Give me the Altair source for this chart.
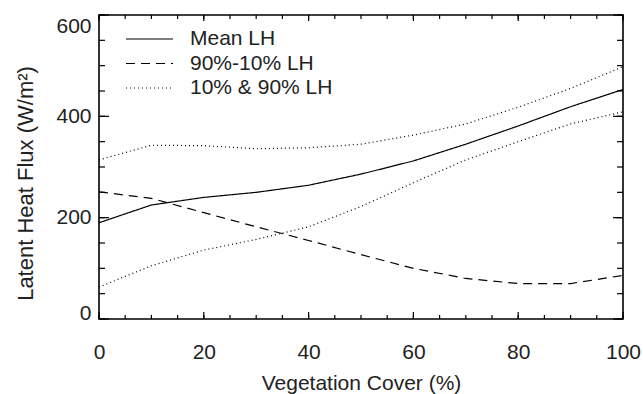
import altair as alt
import pandas as pd

# Vegetation cover classes (%) and latent heat flux statistics (W/m^2)
cover = [0, 10, 20, 30, 40, 50, 60, 70, 80, 90, 100]
mean_lh = [190, 225, 240, 250, 264, 286, 312, 345, 381, 419, 453]
spread_lh = [251, 238, 210, 182, 155, 127, 100, 80, 70, 70, 86]
p10_lh = [63, 105, 136, 157, 182, 222, 269, 314, 350, 385, 409]
p90_lh = [314, 343, 342, 336, 338, 345, 363, 385, 418, 455, 498]

series_names = ["Mean LH", "90%-10% LH", "10% & 90% LH"]
series_dashes = [[1, 0], [9, 6], [1, 3]]

x_label_values = [0, 20, 40, 60, 80, 100]
y_label_values = [0, 200, 400, 600]
x_major_ticks = [0, 20, 40, 60, 80, 100]
x_minor_ticks = list(range(0, 101, 5))
y_major_ticks = [0, 200, 400, 600]
y_minor_ticks = list(range(0, 601, 50))

W, H = 524, 304
FONT = "Liberation Sans"
INK = "#222222"

rows = []
for key, line, vals in [
    ("Mean LH", "mean", mean_lh),
    ("90%-10% LH", "spread", spread_lh),
    ("10% & 90% LH", "p10", p10_lh),
    ("10% & 90% LH", "p90", p90_lh),
]:
    for c, v in zip(cover, vals):
        rows.append({"cover": c, "lh": v, "key": key, "line": line})
df = pd.DataFrame(rows)

xscale = alt.Scale(domain=[0, 100], nice=False, zero=False)
yscale = alt.Scale(domain=[0, 600], nice=False, zero=False)

lines = alt.Chart(df).mark_line(color="black", strokeWidth=1.2).encode(
    x=alt.X(
        "cover:Q",
        scale=xscale,
        axis=alt.Axis(
            values=x_label_values,
            ticks=False,
            tickSize=0,
            domain=False,
            grid=False,
            labelFlush=False,
            labelPadding=22,
            labelFontSize=21,
            labelFont=FONT,
            labelColor=INK,
            title="Vegetation Cover (%)",
            titleFontSize=21,
            titleFont=FONT,
            titleFontWeight="normal",
            titleColor=INK,
            titleBaseline="alphabetic",
            titleY=70,
        ),
    ),
    y=alt.Y(
        "lh:Q",
        scale=yscale,
        axis=alt.Axis(
            values=y_label_values,
            ticks=False,
            tickSize=0,
            domain=False,
            grid=False,
            labelFlush=False,
            labelPadding=8,
            labelFontSize=21,
            labelFont=FONT,
            labelColor=INK,
            labelBaseline={
                "condition": [
                    {"test": "datum.value === 0", "value": "alphabetic"},
                    {"test": "datum.value === 600", "value": "top"},
                ],
                "value": "middle",
            },
            title="Latent Heat Flux (W/m²)",
            titleFontSize=22,
            titleFont=FONT,
            titleFontWeight="normal",
            titleColor=INK,
            titleBaseline="alphabetic",
            titleX=-67,
            titleY=168,
        ),
    ),
    strokeDash=alt.StrokeDash(
        "key:N",
        scale=alt.Scale(domain=series_names, range=series_dashes),
        legend=alt.Legend(
            title=None,
            orient="none",
            legendX=26,
            legendY=12,
            padding=0,
            symbolType="stroke",
            symbolSize=2209,
            symbolStrokeWidth=1.2,
            symbolStrokeColor="black",
            labelFontSize=21,
            labelFont=FONT,
            labelColor=INK,
            labelOffset=16,
            labelLimit=300,
            clipHeight=24,
            rowPadding=0.5,
        ),
    ),
    detail="line:N",
)


def y_ticks(values, length, side):
    x0 = 0 if side == "left" else W
    x1 = length if side == "left" else W - length
    return alt.Chart(pd.DataFrame({"lh": values})).mark_rule(
        color="black", strokeWidth=1.2
    ).encode(
        y=alt.Y("lh:Q", scale=yscale),
        x=alt.value(x0),
        x2=alt.value(x1),
    )


def x_ticks(values, length, side):
    y0 = H if side == "bottom" else 0
    y1 = H - length if side == "bottom" else length
    return alt.Chart(pd.DataFrame({"cover": values})).mark_rule(
        color="black", strokeWidth=1.2
    ).encode(
        x=alt.X("cover:Q", scale=xscale),
        y=alt.value(y0),
        y2=alt.value(y1),
    )


ticks = [
    y_ticks(y_minor_ticks, 6, "left"),
    y_ticks(y_major_ticks, 10, "left"),
    y_ticks(y_minor_ticks, 6, "right"),
    y_ticks(y_major_ticks, 10, "right"),
    x_ticks(x_minor_ticks, 4, "bottom"),
    x_ticks(x_major_ticks, 7, "bottom"),
    x_ticks(x_minor_ticks, 4, "top"),
    x_ticks(x_major_ticks, 6, "top"),
]

chart = (
    alt.layer(lines, *ticks)
    .properties(
        width=W,
        height=H,
        autosize=alt.AutoSizeParams(type="none"),
        padding={"left": 99, "top": 15, "right": 20, "bottom": 75},
        background="white",
    )
    .configure_view(stroke="black", strokeWidth=1.6)
)

chart.save("out.html", embed_options={"renderer": "svg", "actions": False})
